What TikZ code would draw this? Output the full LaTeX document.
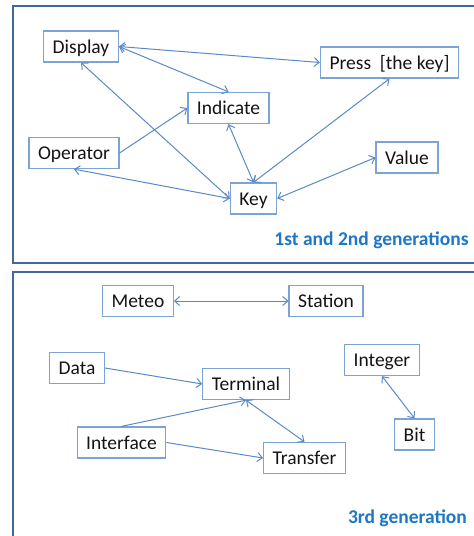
\documentclass[tikz,border=0pt]{standalone}
\usepackage{fontspec}
\setmainfont{Carlito}
\usepackage{tikz}
\usetikzlibrary{arrows.meta}
\definecolor{frame}{HTML}{41679B}
\definecolor{boxline}{HTML}{7BA3D6}
\definecolor{link}{HTML}{5A8AC6}
\definecolor{gen}{HTML}{1D76C6}
\definecolor{ink}{HTML}{141414}

\begin{document}
\begin{tikzpicture}[x=1pt, y=-1pt,
  word/.style={draw=boxline, line width=1.3pt, text=ink, inner xsep=9pt,
    minimum height=31pt, text height=14.5pt, text depth=1pt,
    font=\fontsize{19.5}{23}\selectfont},
  panel/.style={draw=frame, line width=2pt},
  genlabel/.style={text=gen, font=\fontsize{19.5}{23}\selectfont\bfseries},
  link/.style={draw=link, line width=1pt, {Straight Barb[length=5pt,width=9pt]}-{Straight Barb[length=5pt,width=9pt]}},
  onelink/.style={draw=link, line width=1pt, -{Straight Barb[length=5pt,width=9pt]}}]
\useasboundingbox (0,0) rectangle (474,536);
\clip (0,0) rectangle (474,536);
% panels
\draw[panel] (13,6) rectangle (490,263);
\draw[panel] (13,272) rectangle (490,560);
% 1st and 2nd generations
\node[word] (display) at (81,46.5) {Display};
\node[word] (press) at (389.5,62.5) {Press\ \ [the key]};
\node[word] (indicate) at (228.5,108) {Indicate};
\node[word] (operator) at (74,153) {Operator};
\node[word] (value) at (407,157.5) {Value};
\node[word] (key) at (253.5,198.5) {Key};
\node[genlabel] (gen12) at (371.5,240) {1st and 2nd generations};
\draw[link] (display.east) -- (press.west);
\draw[link] (display.east) -- (indicate.north);
\draw[link] (display.south) -- (key.west);
\draw[onelink] (operator.east) -- (indicate.west);
\draw[link] (operator.south) -- (key.west);
\draw[link] (indicate.south) -- (key.north);
\draw[link] (press.south) -- (key.north);
\draw[link] (value.west) -- (key.east);
% 3rd generation
\node[word] (meteo) at (138,301) {Meteo};
\node[word] (station) at (326,301) {Station};
\node[word] (data) at (77,368) {Data};
\node[word] (terminal) at (246,384) {Terminal};
\node[word] (integer) at (382,360) {Integer};
\node[word] (interface) at (121.5,442.5) {Interface};
\node[word] (transfer) at (304.5,458) {Transfer};
\node[word] (bit) at (414.5,434.5) {Bit};
\node[genlabel] (gen3) at (407.5,518) {3rd generation};
\draw[link] (meteo.east) -- (station.west);
\draw[onelink] (data.east) -- (terminal.west);
\draw[onelink] (interface.north) -- (terminal.south);
\draw[link] (terminal.south) -- (transfer.north);
\draw[onelink] (interface.east) -- (transfer.west);
\draw[link] (integer.south) -- (bit.north);
\end{tikzpicture}
\end{document}
